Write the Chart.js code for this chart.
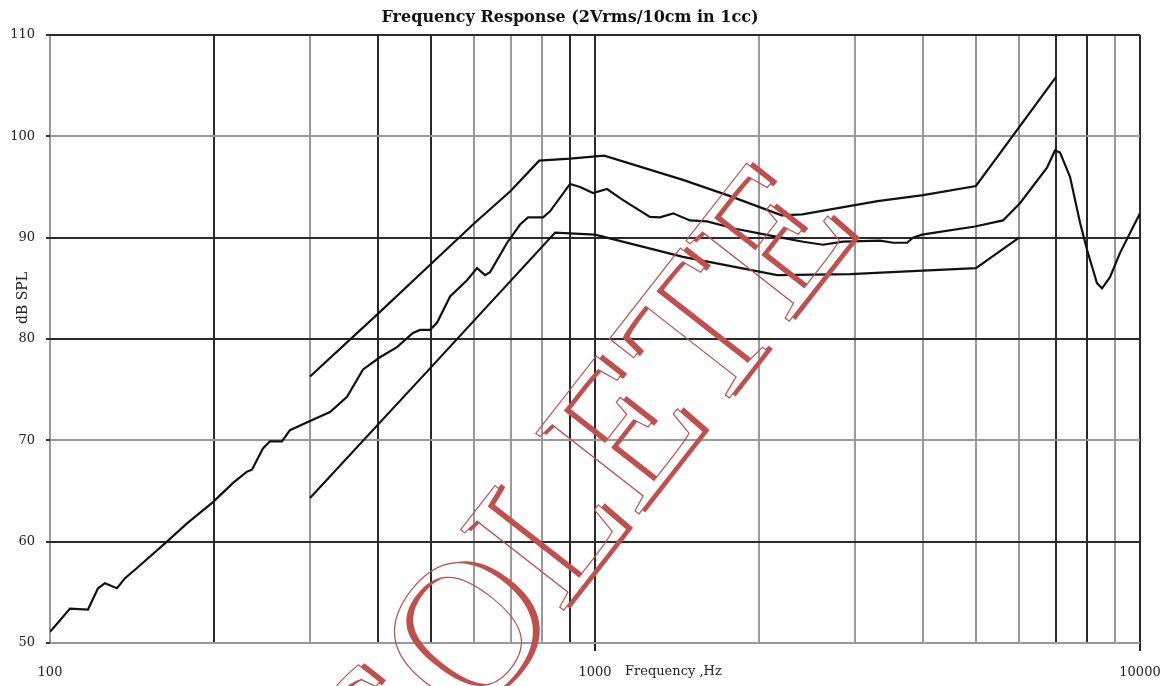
<!DOCTYPE html>
<html>
<head>
<meta charset="utf-8">
<script src="https://cdn.jsdelivr.net/npm/chart.js@4.4.1/dist/chart.umd.min.js"></script>
<style>
  body { margin: 0; background: #fff; }
  #wrap { width: 1163px; height: 686px; }
</style>
</head>
<body>
<div id="wrap"><canvas id="fr" width="1163" height="686"></canvas></div>
<script>
// measured response (middle curve)
const measFreq = [100, 103.4, 108.8, 117.4, 122.5, 126.1, 132.7, 137.3, 144.4, 163.9, 178.4, 199.1,
  216.7, 229.8, 234.7, 245.9, 253.3, 266.4, 275.6, 300, 326.4, 350.8, 375.3, 403.2, 433.2, 463.5,
  477.4, 498, 513, 542.1, 582.3, 607.5, 628.4, 641.9, 689.9, 728.6, 753.6, 803, 827, 899.9, 938.8,
  991.6, 1052, 1126, 1261, 1316, 1391, 1494, 1605, 1800, 2100, 2410, 2620, 2851, 3333, 3523, 3737,
  3833, 3981, 4980, 5606, 6022, 6751, 6982, 7133, 7440, 7761, 7995, 8339, 8518, 8810, 9191, 10000];
const measDb = [51.1, 52.0, 53.4, 53.3, 55.4, 55.9, 55.4, 56.4, 57.4, 60.0, 61.8, 63.9,
  65.8, 66.9, 67.1, 69.2, 69.9, 69.9, 71.0, 71.9, 72.8, 74.3, 77.0, 78.2, 79.2, 80.6,
  80.9, 80.9, 81.6, 84.2, 85.8, 87.0, 86.3, 86.6, 89.5, 91.3, 92.0, 92.0, 92.6, 95.3, 95.0,
  94.4, 94.8, 93.7, 92.05, 92.0, 92.4, 91.7, 91.6, 90.9, 90.2, 89.6, 89.3, 89.6, 89.7, 89.5, 89.5,
  90.0, 90.3, 91.1, 91.7, 93.4, 96.9, 98.6, 98.4, 96.0, 91.5, 88.8, 85.5, 85.0, 86.1, 88.5, 92.4];

// upper limit
const upperFreq = [300, 400, 500, 600, 700, 790, 900, 1040, 1450, 1770, 2200, 2400, 3300, 4000, 5000, 7000];
const upperDb = [76.3, 82.5, 87.4, 91.4, 94.6, 97.6, 97.8, 98.1, 95.7, 94.1, 92.2, 92.3, 93.6, 94.2, 95.1, 105.8];

// lower limit
const lowerFreq = [300, 500, 845, 1000, 1450, 2160, 2940, 3500, 5000, 6000];
const lowerDb = [64.3, 77.2, 90.5, 90.3, 88.1, 86.3, 86.4, 86.6, 87.0, 90.0];

const xTicks = [100, 200, 300, 400, 500, 600, 700, 800, 900, 1000, 2000, 3000, 4000, 5000, 6000, 7000, 8000, 9000, 10000];
const xLabels = [100, 1000, 10000];
const yTicks = [50, 60, 70, 80, 90, 100, 110];

// grid lines that print darker in the original
const darkX = [200, 400, 500, 900, 1000, 7000, 8000, 10000];
const darkY = [110, 90, 80, 60];

const pairs = (fs, ds) => fs.map((f, i) => ({ x: f, y: ds[i] }));

const serif = "'DejaVu Serif', 'Liberation Serif', serif";
const red = '#c0504d';

const extraText = {
  id: 'extraText',
  afterDraw(chart) {
    const ctx = chart.ctx;
    const xs = chart.scales.x;

    ctx.save();
    ctx.fillStyle = '#222';
    ctx.font = '13px ' + serif;
    ctx.textBaseline = 'middle';
    ctx.textAlign = 'left';
    ctx.fillText('Frequency ,Hz', xs.getPixelForValue(1000) + 30, 672);

    ctx.translate(23, 298);
    ctx.rotate(-Math.PI / 2);
    ctx.textAlign = 'center';
    ctx.font = '14px ' + serif;
    ctx.fillText('dB SPL', 0, 0);
    ctx.restore();

    // OBSOLETE stamp: outline letters with a red shadow, see-through inside
    const off = document.createElement('canvas');
    off.width = chart.width;
    off.height = chart.height;
    const o = off.getContext('2d');
    o.translate(505, 600);
    o.rotate(-52 * Math.PI / 180);
    o.font = "200px 'Liberation Serif', serif";
    o.textAlign = 'center';
    o.textBaseline = 'middle';
    o.fillStyle = red;
    o.fillText('OBSOLETE', 5, 4);
    o.globalCompositeOperation = 'destination-out';
    o.fillText('OBSOLETE', 0, 0);
    o.globalCompositeOperation = 'source-over';
    o.strokeStyle = red;
    o.lineWidth = 1.2;
    o.strokeText('OBSOLETE', 0, 0);
    ctx.drawImage(off, 0, 0);
  }
};

new Chart(document.getElementById('fr'), {
  type: 'line',
  data: {
    datasets: [
      { data: pairs(upperFreq, upperDb) },
      { data: pairs(measFreq, measDb) },
      { data: pairs(lowerFreq, lowerDb) }
    ]
  },
  options: {
    responsive: false,
    animation: false,
    layout: { padding: { right: 23, left: 0, bottom: 0 } },
    elements: {
      line: { borderColor: '#111', borderWidth: 2.2, tension: 0 },
      point: { radius: 0 }
    },
    plugins: {
      legend: { display: false },
      tooltip: { enabled: false },
      title: {
        display: true,
        text: 'Frequency Response (2Vrms/10cm in 1cc)',
        color: '#111',
        font: { family: serif, size: 16, weight: 'bold', lineHeight: 1.2 },
        padding: { top: 8, bottom: 7.8 }
      }
    },
    scales: {
      x: {
        type: 'logarithmic',
        min: 100,
        max: 10000,
        afterBuildTicks: s => { s.ticks = xTicks.map(v => ({ value: v })); },
        afterFit: s => { s.height = 43; s.paddingLeft = 0; s.paddingRight = 0; },
        border: { display: false },
        grid: {
          lineWidth: 2,
          color: c => darkX.includes(c.tick && c.tick.value) ? '#2a2a2a' : '#999',
          tickColor: c => (c.tick && (c.tick.value === 1000 || c.tick.value === 10000)) ? '#222' : 'rgba(0,0,0,0)',
          tickLength: 8
        },
        ticks: {
          autoSkip: false,
          maxRotation: 0,
          padding: 14,
          color: '#222',
          font: { family: serif, size: 13 },
          callback: v => xLabels.includes(v) ? String(v) : ''
        }
      },
      y: {
        min: 50,
        max: 110,
        afterBuildTicks: s => { s.ticks = yTicks.map(v => ({ value: v })); },
        afterFit: s => { s.width = 50; s.paddingTop = 0; s.paddingBottom = 0; },
        border: { display: false },
        grid: {
          lineWidth: 2,
          color: c => darkY.includes(c.tick && c.tick.value) ? '#2a2a2a' : '#999',
          tickColor: '#333',
          tickLength: 4
        },
        ticks: {
          padding: 11,
          color: '#222',
          font: { family: serif, size: 13 }
        }
      }
    }
  },
  plugins: [extraText]
});
</script>
</body>
</html>
